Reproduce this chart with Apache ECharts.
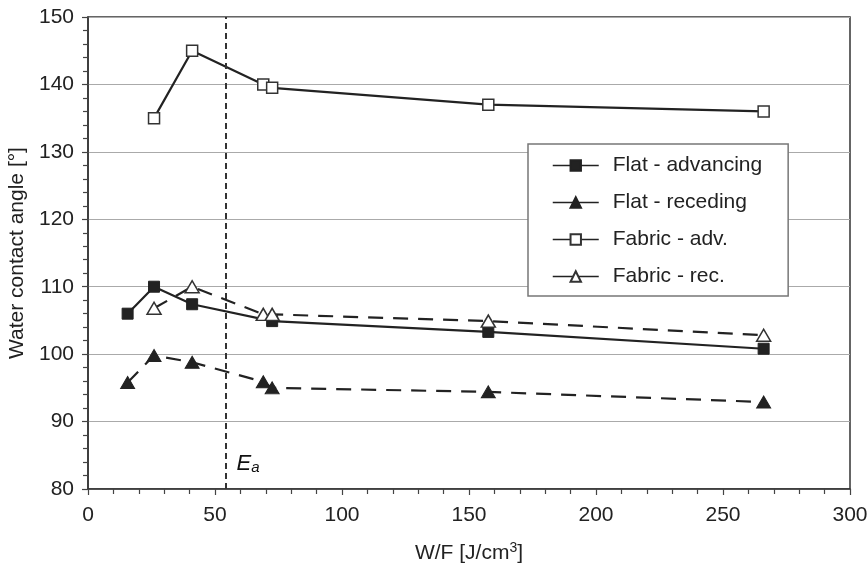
<!DOCTYPE html>
<html>
<head>
<meta charset="utf-8">
<script src="https://cdn.jsdelivr.net/npm/echarts@6/dist/echarts.min.js"></script>
<style>html,body{margin:0;padding:0;background:#fff}#c{width:868px;height:564px}</style>
</head>
<body>
<div id="c"></div>
<script>
var seriesNames = ['Flat - advancing', 'Flat - receding', 'Fabric - adv.', 'Fabric - rec.'];
var flatAdvX = [15.6, 26, 41, 72.5, 157.6, 266];
var flatAdvY = [106, 110, 107.4, 104.9, 103.3, 100.8];
var flatRecX = [15.6, 26, 41, 69, 72.5, 157.6, 266];
var flatRecY = [95.8, 99.8, 98.8, 95.9, 95, 94.4, 92.9];
var fabAdvX = [26, 41, 69, 72.5, 157.6, 266];
var fabAdvY = [135, 145, 140, 139.5, 137, 136];
var fabRecX = [26, 41, 69, 72.5, 157.6, 266];
var fabRecY = [106.8, 110, 105.9, 105.9, 104.9, 102.8];
var eaX = 54.3;
var eaLabelPos = [58.5, 83.8];
var xTicks = [0, 50, 100, 150, 200, 250, 300];
var yTicks = [80, 90, 100, 110, 120, 130, 140, 150];

function pairs(xs, ys) { return xs.map(function (x, i) { return [x, ys[i]]; }); }

var FONT = '"Liberation Sans", Arial, sans-serif';
var DARK = '#222';
var chart = echarts.init(document.getElementById('c'));
chart.setOption({
  animation: false,
  backgroundColor: '#fff',
  textStyle: { fontFamily: FONT },
  grid: { left: 88, top: 17, right: 18, bottom: 75, containLabel: false, outerBoundsMode: 'none', show: true, borderColor: '#333', borderWidth: 1.5, backgroundColor: 'transparent' },
  legend: {
    orient: 'vertical', left: 528, top: 144,
    padding: [11, 26, 9, 24],
    itemGap: 16, itemWidth: 46, itemHeight: 13,
    backgroundColor: '#fff', borderColor: '#777', borderWidth: 1.5, borderRadius: 0,
    textStyle: { fontSize: 21, color: '#222', fontFamily: FONT, lineHeight: 21, padding: [0, 0, 0, 9] },
    lineStyle: { type: 'solid', width: 1.5 },
    data: seriesNames
  },
  xAxis: {
    type: 'value', min: xTicks[0], max: xTicks[xTicks.length - 1], interval: 50,
    name: 'W/F [J/cm{sup|3}]', nameLocation: 'middle', nameGap: 52,
    nameTextStyle: { fontSize: 21, color: '#222', fontFamily: FONT, rich: { sup: { fontSize: 14, verticalAlign: 'top', padding: [0, 0, 10, 0], fontFamily: FONT, color: '#222' } } },
    axisLine: { lineStyle: { color: '#333', width: 1.5 } },
    axisTick: { show: true, length: 6, lineStyle: { color: '#444', width: 1.2 } },
    minorTick: { show: true, splitNumber: 5, length: 5, lineStyle: { color: '#444', width: 1.2 } },
    axisLabel: { fontSize: 21, color: '#222', margin: 16, fontFamily: FONT },
    splitLine: { show: false }
  },
  yAxis: {
    type: 'value', min: yTicks[0], max: yTicks[yTicks.length - 1], interval: 10,
    name: 'Water contact angle [°]', nameLocation: 'middle', nameGap: 60,
    nameTextStyle: { fontSize: 21, color: '#222', fontFamily: FONT },
    axisLine: { show: true, lineStyle: { color: '#333', width: 1.5 } },
    axisTick: { show: true, length: 6, lineStyle: { color: '#444', width: 1.2 } },
    minorTick: { show: true, splitNumber: 5, length: 5, lineStyle: { color: '#444', width: 1.2 } },
    axisLabel: { fontSize: 21, color: '#222', margin: 14, fontFamily: FONT },
    splitLine: { show: true, lineStyle: { color: '#aaa', width: 1.2 } }
  },
  series: [
    {
      name: seriesNames[0], type: 'line', data: pairs(flatAdvX, flatAdvY),
      symbol: 'rect', symbolSize: 11,
      lineStyle: { color: DARK, width: 2.2 },
      itemStyle: { color: DARK, borderColor: DARK, borderWidth: 1 },
      markLine: {
        silent: true, symbol: 'none', label: { show: false },
        lineStyle: { color: '#333', type: [6, 4], width: 2 },
        data: [{ xAxis: eaX }]
      },
      z: 3
    },
    {
      name: seriesNames[1], type: 'line', data: pairs(flatRecX, flatRecY),
      symbol: 'triangle', symbolSize: [14, 12],
      lineStyle: { color: DARK, width: 2.2, type: [15, 10] },
      itemStyle: { color: DARK, borderColor: DARK, borderWidth: 1 },
      z: 3
    },
    {
      name: seriesNames[2], type: 'line', data: pairs(fabAdvX, fabAdvY),
      symbol: 'rect', symbolSize: 11,
      lineStyle: { color: DARK, width: 2.2 },
      itemStyle: { color: '#fff', borderColor: '#333', borderWidth: 1.5 },
      z: 4
    },
    {
      name: seriesNames[3], type: 'line', data: pairs(fabRecX, fabRecY),
      symbol: 'triangle', symbolSize: [14, 12],
      lineStyle: { color: DARK, width: 2.2, type: [15, 10] },
      itemStyle: { color: '#fff', borderColor: '#333', borderWidth: 1.5 },
      z: 5
    },
    {
      name: 'Ea', type: 'scatter', data: [eaLabelPos], symbolSize: 0, silent: true,
      itemStyle: { opacity: 1 },
      label: {
        show: true, position: 'right', distance: 0, opacity: 1,
        formatter: '{e|E}{a|a}',
        rich: {
          e: { fontSize: 22, fontStyle: 'italic', color: '#111', fontFamily: FONT },
          a: { fontSize: 15, fontStyle: 'italic', color: '#111', fontFamily: FONT, verticalAlign: 'bottom', padding: [9, 0, 0, 0] }
        }
      }
    }
  ]
});
</script>
</body>
</html>
